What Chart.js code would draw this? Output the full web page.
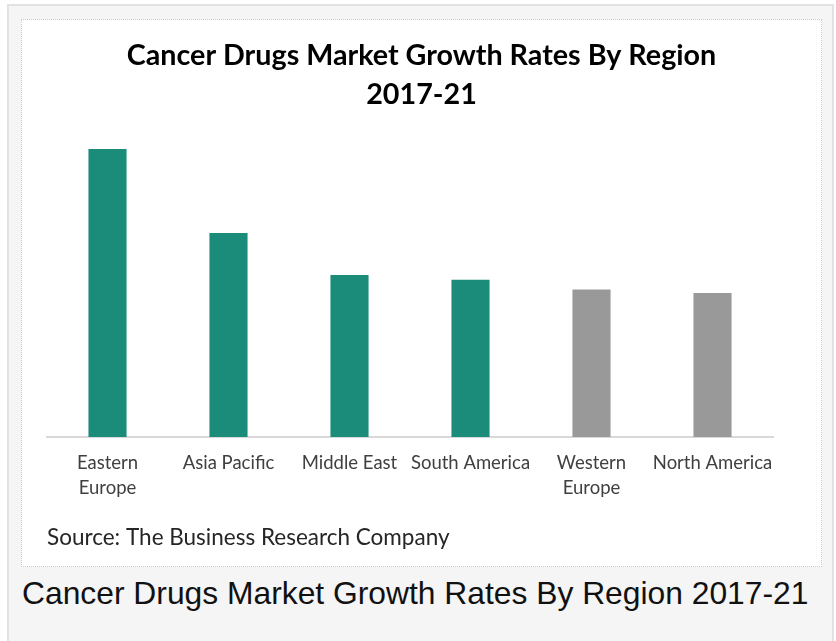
<!DOCTYPE html>
<html>
<head>
<meta charset="utf-8">
<script src="https://cdn.jsdelivr.net/npm/chart.js@4"></script>
<style>
  html, body { margin: 0; padding: 0; background: #fff; }
  body { width: 836px; height: 641px; position: relative; overflow: hidden; font-family: "Liberation Sans", Arial, sans-serif; }
  .frame { position: absolute; left: 7px; top: 4px; width: 827px; height: 660px; background: #f5f5f5; border: 2px solid #e2e2e2; box-sizing: border-box; }
  .panel { position: absolute; left: 21px; top: 19px; width: 801px; height: 548px; background: #fff; border: 1px dotted #c9c9c9; box-sizing: border-box; }
  .panel canvas { display: block; }
  .caption { position: absolute; left: 22px; top: 575px; font-size: 31.8px; color: #111; white-space: nowrap; }
</style>
</head>
<body>
<div class="frame"></div>
<div class="panel"><canvas id="chart" width="799" height="546"></canvas></div>
<div class="caption">Cancer Drugs Market Growth Rates By Region 2017-21</div>
<script>
// growth rate estimates (%)
const regions = [['Eastern', 'Europe'], 'Asia Pacific', 'Middle East', 'South America', ['Western', 'Europe'], 'North America'];
const growth = [12.0, 8.5, 6.75, 6.55, 6.15, 6.0];
const barColors = ['#1c8c7a', '#1c8c7a', '#1c8c7a', '#1c8c7a', '#999999', '#999999'];

new Chart(document.getElementById('chart'), {
    type: 'bar',
    data: {
        labels: regions,
        datasets: [{ data: growth, backgroundColor: barColors, barPercentage: 0.315, categoryPercentage: 1 }]
    },
    options: {
        responsive: false,
        animation: false,
        layout: { padding: { left: 25, right: 25, top: 0, bottom: 0 } },
        plugins: {
            legend: { display: false },
            tooltip: { enabled: false },
            title: {
                display: true,
                text: ['Cancer Drugs Market Growth Rates By Region', '2017-21'],
                color: '#000',
                font: { family: 'Lato', size: 28.7, weight: 'bold', lineHeight: '39px' },
                padding: { top: 16, bottom: 23 }
            },
            subtitle: {
                display: true,
                position: 'bottom',
                align: 'start',
                text: 'Source: The Business Research Company',
                color: '#262626',
                font: { family: 'Lato', size: 22.5, lineHeight: '24px' },
                padding: { top: 0, bottom: 16 }
            }
        },
        scales: {
            x: {
                grid: { display: false, drawTicks: false },
                border: { display: true, color: '#d9d9d9', width: 2 },
                ticks: { color: '#404040', padding: 14, maxRotation: 0, autoSkip: false, font: { family: 'Lato', size: 18.5, lineHeight: '25px' } },
                afterFit: s => { s.height = 89; }
            },
            y: {
                position: 'right',
                min: 0,
                max: 12.5,
                grid: { display: false, drawTicks: false },
                border: { display: false },
                ticks: { display: false },
                afterFit: s => { s.width = 23; }
            }
        }
    }
});
</script>
</body>
</html>
